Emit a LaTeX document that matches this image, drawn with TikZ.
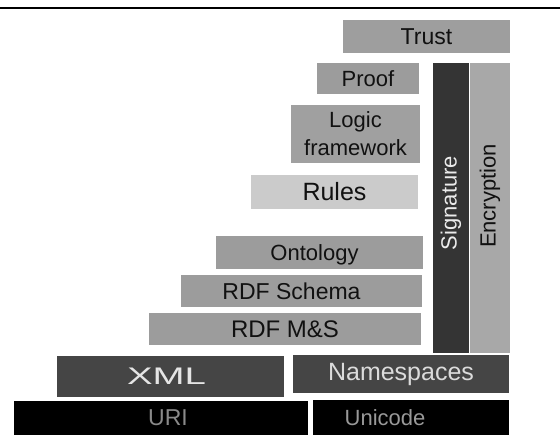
\documentclass[tikz,border=0pt]{standalone}
\usepackage{fontspec}
\setmainfont{Liberation Sans}
\usepackage{graphicx}

\definecolor{midgray}{HTML}{9C9C9C}
\definecolor{lightgray}{HTML}{CBCBCB}
\definecolor{cryptgray}{HTML}{A8A8A8}
\definecolor{darkgray}{HTML}{454545}
\definecolor{siggray}{HTML}{343434}
\definecolor{inkgray}{HTML}{111111}

\tikzset{
  layer/.style={inner sep=0pt, outer sep=0pt, draw=none, align=center,
    text=inkgray, font=\fontsize{22}{28}\selectfont},
}

% \layerbox{name}{x1}{y1}{x2}{y2}{style}{text}
\newcommand\layerbox[7]{%
  \node[layer, minimum width={(#4-#2)*1pt}, minimum height={(#5-#3)*1pt}, #6]
    (#1) at ({(#2+#4)/2},{(#3+#5)/2}) {#7};%
}

\begin{document}
\begin{tikzpicture}[x=1pt, y=-1pt]
  \useasboundingbox (0,0) rectangle (560,435);
  \fill[white] (0,0) rectangle (560,435);

  % rule along the top
  \coordinate (ruleL) at (0,8);
  \coordinate (ruleR) at (560,8);
  \draw[line width=1.6pt, black] (ruleL) -- (ruleR);

  % stack of layers
  \layerbox{trust}{343}{20}{510}{53}{fill=midgray!98!white}{\fontsize{23}{28}\selectfont Trust}
  \layerbox{proof}{317}{63}{419}{94}{fill=midgray}{Proof}
  \layerbox{logic}{291}{105}{420}{163}{fill=midgray!96!white}{Logic\\framework}
  \layerbox{rules}{251}{175}{418}{209}{fill=lightgray}{\fontsize{25}{28}\selectfont Rules}
  \layerbox{onto}{216}{236}{423}{269}{fill=midgray, text depth=0pt}{\hspace*{-10pt}Ontology}
  \layerbox{rdfs}{181}{275}{422}{307}{fill=midgray}{\hspace*{-20pt}\fontsize{23}{28}\selectfont RDF Schema}
  \layerbox{rdfms}{149}{313}{421}{345}{fill=midgray}{\fontsize{24}{28}\selectfont RDF M\&S}

  % security columns
  \layerbox{sig}{433}{63}{469}{353}{fill=siggray, text=white!92!black}{\raisebox{0pt}{\rotatebox{90}{\hspace*{10pt}Signature}}}
  \layerbox{enc}{470}{63}{510}{353}{fill=cryptgray}{\rotatebox{90}{\hspace*{24pt}Encryption}}

  % syntax and base layers
  \layerbox{xml}{57}{356}{284}{397}{fill=darkgray, text=white!90!black}{\hspace*{-8pt}\scalebox{1.6}[1]{\fontsize{24}{28}\selectfont XML}}
  \layerbox{ns}{293}{355}{509}{393}{fill=darkgray, text=white!86!black}{\fontsize{25}{28}\selectfont Namespaces}
  \layerbox{uri}{14}{401}{308}{435}{fill=black, text=black!46}{\hspace*{14pt}\fontsize{23}{28}\selectfont URI}
  \layerbox{uni}{313}{400}{509}{435}{fill=black, text=black!40}{\hspace*{-52pt}Unicode}
\end{tikzpicture}
\end{document}
